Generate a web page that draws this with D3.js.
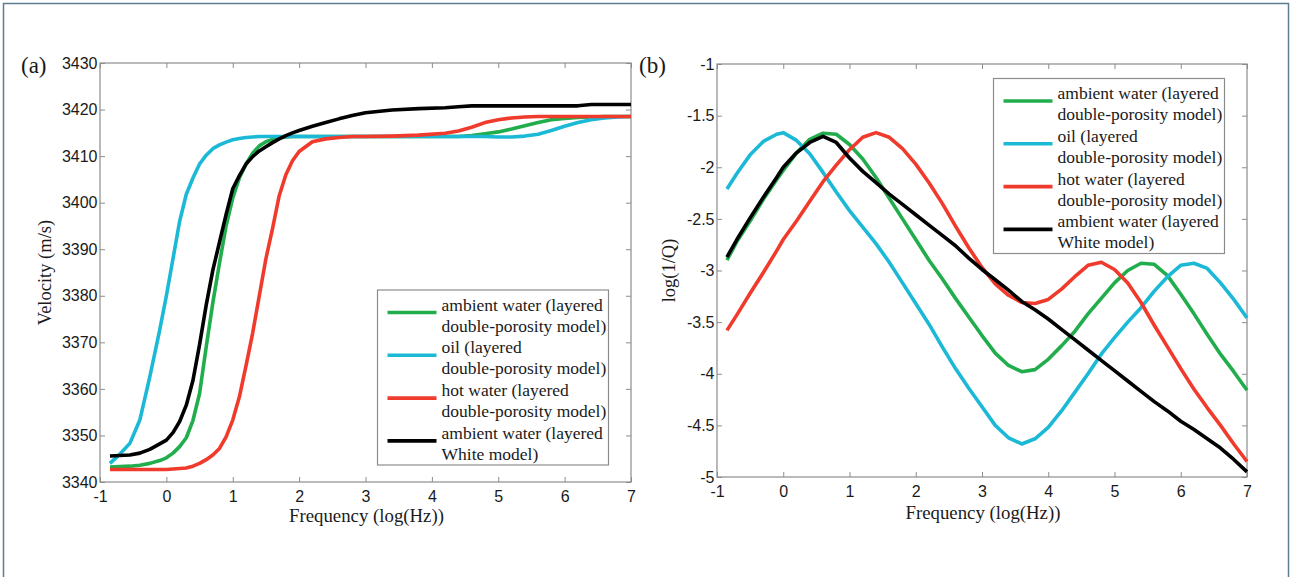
<!DOCTYPE html>
<html lang="en">
  <head>
    <meta charset="UTF-8"/>
    <title>Velocity and attenuation vs frequency</title>
    <script src="https://d3js.org/d3.v7.min.js"></script>
    <style>
      body { margin: 0; background: #fff; }
      .tick text {
        font-family: 'Liberation Sans', Arial, sans-serif;
        font-size: 16px;
        fill: #1a1a1a;
      }
      .tick line { stroke: #8c8c8c; }
      .axis-title, .legend text, .panel-tag {
        font-family: 'Liberation Serif', 'Times New Roman', serif;
        fill: #1a1a1a;
      }
    </style>
  </head>
  <body>
    <script type="text/javascript">

      // ---- data ----
      const seriesNames = ["ambient water (layered double-porosity model)",
                           "oil (layered double-porosity model)",
                           "hot water (layered double-porosity model)",
                           "ambient water (layered White model)"]
      const legendLines = [["ambient water (layered", "double-porosity model)"],
                           ["oil (layered", "double-porosity model)"],
                           ["hot water (layered", "double-porosity model)"],
                           ["ambient water (layered", "White model)"]]
      const colors = ["#22ad4c", "#1bb9d6", "#ef3a2c", "#000000"]

      // (a) velocity, m/s
      const freqA = [-0.85,-0.7,-0.55,-0.4,-0.25,-0.1,
        0,0.1,0.2,0.3,0.4,0.5,0.6,0.7,0.8,0.9,1.0,
        1.1,1.2,1.3,1.4,1.5,1.6,1.7,1.8,1.9,2.0,
        2.2,2.4,2.6,2.8,3.0, 3.4,3.8,4.2,
        4.4,4.6,4.8,5.0,5.2,5.4,5.6,5.8,6.0,6.2,6.4,6.6,6.8,7.0]
      const velAmbient = [3343.2,3343.3,3343.4,3343.6,3344.0,3344.6,
        3345.2,3346.2,3347.6,3349.5,3353.2,3359,3369,3378.5,3387,3395,3401,
        3405.3,3408.3,3410.6,3412.2,3413.1,3413.6,3413.9,3414.1,3414.2,3414.2,
        3414.2,3414.2,3414.2,3414.2,3414.2, 3414.2,3414.2,3414.2,
        3414.2,3414.4,3414.8,3415.2,3415.8,3416.5,3417.2,3417.8,3418.1,3418.3,3418.4,3418.5,3418.5,3418.5]
      const velOil = [3344,3346,3348.3,3353.3,3362.6,3372.7,
        3380,3388,3396,3401.8,3405.3,3408.3,3410.2,3411.6,3412.4,3413,3413.5,
        3413.8,3414,3414.1,3414.2,3414.2,3414.2,3414.2,3414.2,3414.2,3414.2,
        3414.2,3414.2,3414.2,3414.2,3414.2, 3414.2,3414.2,3414.2,
        3414.2,3414.2,3414.2,3414.1,3414.1,3414.3,3414.7,3415.5,3416.4,3417.2,3417.8,3418.2,3418.4,3418.5]
      const velHot = [3342.7,3342.7,3342.7,3342.7,3342.7,3342.7,
        3342.7,3342.8,3342.9,3343.0,3343.4,3344,3344.8,3345.8,3347.2,3349.7,3353.3,
        3358.3,3365,3372,3380,3388,3394.5,3401.5,3406,3409,3411,
        3413.1,3413.7,3414,3414.2,3414.2, 3414.3,3414.5,3414.9,
        3415.4,3416.2,3417.2,3417.8,3418.2,3418.4,3418.5,3418.5,3418.5,3418.5,3418.5,3418.5,3418.5,3418.5]
      const velWhite = [3345.6,3345.7,3345.8,3346.2,3347.0,3348.2,
        3349,3350.6,3353,3356.5,3361.8,3369.5,3378,3385.5,3391.5,3397.5,3403,
        3405.8,3408.3,3409.9,3411.1,3412,3412.9,3413.7,3414.4,3415,3415.5,
        3416.4,3417.2,3418,3418.7,3419.3, 3419.9,3420.2,3420.4,
        3420.6,3420.8,3420.8,3420.8,3420.8,3420.8,3420.8,3420.8,3420.8,3420.8,3421.1,3421.1,3421.1,3421.1]

      // (b) log(1/Q)
      const freqB = [-0.85,-0.7,-0.5,-0.3,-0.1,
        0,0.2,0.4,0.6,0.8,1.0,1.2,1.4,1.6,1.8,2.0,2.2,2.4,2.6,2.8,3.0,
        3.2,3.4,3.6,3.8,4.0,4.2,4.4,4.6,4.8,5.0,5.2,5.4,5.6,5.8,6.0,6.2,6.4,6.6,6.8,7.0]
      const invQAmbient = [-2.9,-2.72,-2.52,-2.31,-2.12,
        -2.03,-1.86,-1.73,-1.67,-1.68,-1.78,-1.92,-2.1,-2.3,-2.5,-2.7,-2.9,-3.08,-3.27,-3.45,-3.63,
        -3.8,-3.92,-3.98,-3.96,-3.86,-3.73,-3.59,-3.42,-3.27,-3.12,-3.0,-2.93,-2.94,-3.05,-3.23,-3.42,-3.62,-3.81,-3.98,-4.16]
      const invQOil = [-2.21,-2.06,-1.88,-1.75,-1.68,
        -1.665,-1.74,-1.87,-2.05,-2.24,-2.42,-2.58,-2.74,-2.92,-3.12,-3.32,-3.52,-3.74,-3.95,-4.14,-4.32,
        -4.5,-4.62,-4.68,-4.63,-4.52,-4.36,-4.18,-4.0,-3.81,-3.65,-3.5,-3.36,-3.2,-3.06,-2.95,-2.93,-2.98,-3.12,-3.28,-3.46]
      const invQHot = [-3.58,-3.43,-3.22,-3.02,-2.81,
        -2.70,-2.52,-2.33,-2.14,-1.98,-1.83,-1.71,-1.665,-1.71,-1.82,-1.97,-2.15,-2.35,-2.57,-2.78,-2.97,
        -3.13,-3.24,-3.31,-3.32,-3.28,-3.18,-3.06,-2.95,-2.92,-2.99,-3.12,-3.31,-3.53,-3.74,-3.95,-4.15,-4.33,-4.5,-4.68,-4.85]
      const invQWhite = [-2.87,-2.70,-2.49,-2.29,-2.1,
        -2.0,-1.86,-1.76,-1.70,-1.76,-1.91,-2.04,-2.15,-2.26,-2.36,-2.46,-2.56,-2.66,-2.76,-2.88,-2.99,
        -3.09,-3.19,-3.3,-3.38,-3.47,-3.57,-3.67,-3.77,-3.87,-3.97,-4.07,-4.17,-4.27,-4.36,-4.46,-4.54,-4.63,-4.72,-4.83,-4.95]

      const xTicks = [-1, 0, 1, 2, 3, 4, 5, 6, 7]
      const yTicksA = [3340, 3350, 3360, 3370, 3380, 3390, 3400, 3410, 3420, 3430]
      const yTicksB = [-5, -4.5, -4, -3.5, -3, -2.5, -2, -1.5, -1]

      const outerWidth = 1290,
            outerHeight = 577

      // plain hyphen minus, like the original figure
      const fmt = d => String(d)

      const svg = d3.select("body").append("svg")
          .attr("width", outerWidth)
          .attr("height", outerHeight)

      // page frame
      svg.append("rect")
          .attr("x", 3.5).attr("y", 3.5)
          .attr("width", 1285).attr("height", 620)
          .attr("fill", "none")
          .attr("stroke", "#5b7e90")
          .attr("stroke-width", 1.5)

      const render = (cfg) => {
          const { left, top, right, bottom } = cfg.box

          const xScale = d3.scaleLinear().domain([-1, 7]).range([left, right])
          const yScale = d3.scaleLinear().domain(cfg.yDomain).range([bottom, top])

          const g = svg.append("g")

          // plot box
          g.append("rect")
              .attr("x", left).attr("y", top)
              .attr("width", right - left).attr("height", bottom - top)
              .attr("fill", "none")
              .attr("stroke", "#8c8c8c")
              .attr("stroke-width", 1.2)

          // inward ticks on all four sides, matlab style
          g.append("g")
              .attr("transform", `translate(0,${bottom})`)
              .call(d3.axisBottom(xScale).tickValues(xTicks).tickFormat(fmt)
                  .tickSizeInner(-5).tickSizeOuter(0).tickPadding(8.5))
              .call(g => g.select(".domain").remove())
          g.append("g")
              .attr("transform", `translate(0,${top})`)
              .call(d3.axisTop(xScale).tickValues(xTicks).tickFormat("")
                  .tickSizeInner(-5).tickSizeOuter(0))
              .call(g => g.select(".domain").remove())
          g.append("g")
              .attr("transform", `translate(${left},0)`)
              .call(d3.axisLeft(yScale).tickValues(cfg.yTicks).tickFormat(fmt)
                  .tickSizeInner(-5).tickSizeOuter(0).tickPadding(2.5))
              .call(g => g.select(".domain").remove())
          g.append("g")
              .attr("transform", `translate(${right},0)`)
              .call(d3.axisRight(yScale).tickValues(cfg.yTicks).tickFormat("")
                  .tickSizeInner(-5).tickSizeOuter(0))
              .call(g => g.select(".domain").remove())

          // curves
          const line = d3.line()
              .x((d, i) => xScale(cfg.x[i]))
              .y(d => yScale(d))

          g.append("g")
            .selectAll("path")
            .data(cfg.series)
            .join("path")
              .attr("d", d => line(d))
              .attr("fill", "none")
              .attr("stroke", (d, i) => colors[i])
              .attr("stroke-width", 3.6)
              .attr("stroke-linejoin", "round")

          // axis titles
          g.append("text")
              .attr("class", "axis-title")
              .attr("x", (left + right) / 2 + 1)
              .attr("y", bottom + cfg.xTitleGap)
              .attr("text-anchor", "middle")
              .attr("font-size", 18.8)
              .text("Frequency (log(Hz))")

          g.append("text")
              .attr("class", "axis-title")
              .attr("transform", `translate(${cfg.yTitleX},${(top + bottom) / 2}) rotate(-90)`)
              .attr("text-anchor", "middle")
              .attr("font-size", 18.5)
              .text(cfg.yTitle)

          g.append("text")
              .attr("class", "panel-tag")
              .attr("x", cfg.tag.x).attr("y", cfg.tag.y)
              .attr("font-size", 23)
              .text(cfg.tag.text)

          // legend
          const lg = g.append("g")
              .attr("class", "legend")
              .attr("transform", `translate(${cfg.legend.x},${cfg.legend.y})`)

          lg.append("rect")
              .attr("width", 231).attr("height", 175)
              .attr("fill", "#fff")
              .attr("stroke", "#8c8c8c")
              .attr("stroke-width", 1.2)

          const item = lg.selectAll("g.item")
            .data(legendLines)
            .join("g")
              .attr("class", "item")
              .attr("transform", (d, i) => `translate(0,${22.5 + i * 42.8})`)

          item.append("line")
              .attr("x1", 10).attr("x2", 59)
              .attr("stroke", (d, i) => colors[i])
              .attr("stroke-width", 3.6)

          item.append("text")
              .attr("x", 64)
              .attr("font-size", 17.5)
            .selectAll("tspan")
            .data(d => d)
            .join("tspan")
              .attr("x", 64)
              .attr("y", (d, i) => i === 0 ? -2 : 19)
              .text(d => d)
      }

      render({
          box: { left: 100, top: 63, right: 631, bottom: 482 },
          yDomain: [3340, 3430],
          yTicks: yTicksA,
          x: freqA,
          series: [velAmbient, velOil, velHot, velWhite],
          yTitle: "Velocity (m/s)",
          yTitleX: 51,
          xTitleGap: 40,
          tag: { x: 21, y: 73, text: "(a)" },
          legend: { x: 377.5, y: 290 }
      })

      render({
          box: { left: 717, top: 64, right: 1247, bottom: 477 },
          yDomain: [-5, -1],
          yTicks: yTicksB,
          x: freqB,
          series: [invQAmbient, invQOil, invQHot, invQWhite],
          yTitle: "log(1/Q)",
          yTitleX: 675,
          xTitleGap: 42,
          tag: { x: 639, y: 73, text: "(b)" },
          legend: { x: 993.5, y: 78.5 }
      })

    </script>
  </body>
</html>
